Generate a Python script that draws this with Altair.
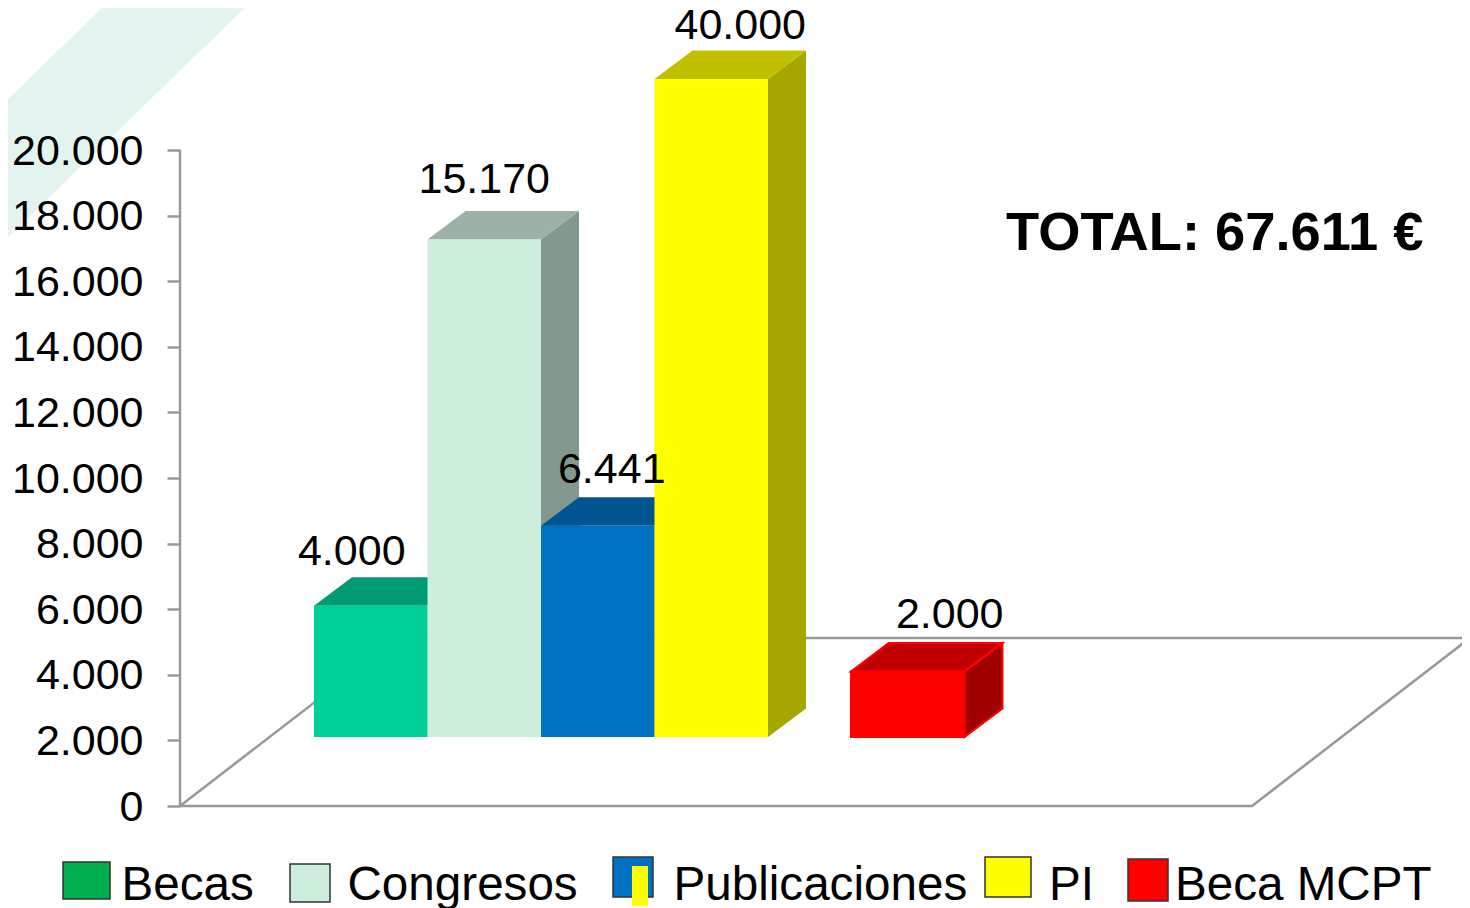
import altair as alt
import pandas as pd

# ---- data ----
categories = ["Becas", "Congresos", "Publicaciones", "PI", "Beca MCPT"]
values = [4000, 15170, 6441, 40000, 2000]
axis_ticks = list(range(0, 20001, 2000))
total_text = "TOTAL: 67.611 €"

# ---- styling / layout ----
slots = [0, 1, 2, 3, 4.731]          # bar position, in bar widths
front = ["#00CF9A", "#CDEEDD", "#0070C0", "#FFFF00", "#FF0000"]
top_c = ["#009A73", "#9AB3A6", "#005490", "#C0C000", "#C00000"]
side_c = ["#008A67", "#83988E", "#004B80", "#A6A600", "#A00000"]
legend_c = ["#00B050", "#CDEEDD", "#0070C0", "#FFFF00", "#FF0000"]
legend_boxes = [(63, 110, 862, 899), (290, 330, 864, 902), (613, 653, 857, 897),
                (985, 1031, 857, 897), (1128, 1168, 859, 901)]
legend_text_x = [121.5, 347.5, 673.5, 1049, 1175]
label_dx = [-19, 0, 14, 29, 42]      # label centre relative to the bar centre, px
label_gap = [41, 46, 43, 40, 43]     # label baseline above the bar top, px
FONT = "Liberation Sans"
GREY = "#999999"

AXIS_PX = 180                        # picture pixel of the axis line
LEFT = AXIS_PX - 8
W, H = 1454 - LEFT, 900
PX_PER_EURO = 0.0328
BAR_W = 113.5
X0, Y0 = 314, 806                    # picture pixel of slot 0 and of 0 euros
DX, DY = 38, 28.5                    # depth of the 3D effect, px
BASE = (Y0 - 737) / PX_PER_EURO      # the front faces stand on the floor
TOP_LIMIT = (737 - 79) / PX_PER_EURO # the tallest bar is cut here


def X(px):
    return (px - X0) / BAR_W


def Y(py):
    return (Y0 - py) / PX_PER_EURO


x_scale = alt.Scale(domain=[X(AXIS_PX), X(AXIS_PX + W)], range=[0, W], nice=False, zero=False)
y_scale = alt.Scale(domain=[Y(8 + H), Y(8)], range=[H, 0], nice=False, zero=False)
y_axis = alt.Axis(
    values=axis_ticks,
    domain=False,
    grid=False,
    zindex=1,
    tickColor=GREY,
    tickWidth=2.5,
    tickSize=13,
    labelPadding=24,
    labelFont=FONT,
    labelFontSize=43,
    labelColor="#000000",
    labelExpr="replace(format(datum.value, ','), ',', '.')",
    labelOverlap=False,
    labelFlush=False,
    labelBound=False,
    labelOffset=1,
)
xq = lambda f="x": alt.X(f"{f}:Q", scale=x_scale, axis=None, title=None)
yq = lambda f="y": alt.Y(f"{f}:Q", scale=y_scale, axis=y_axis, title=None)


def df(**kw):
    return alt.Chart(pd.DataFrame(kw))


layers = []

# pale decoration in the corner
layers.append(
    df(x=[X(0), X(110), X(253)], y=[Y(107), Y(0), Y(0)], y2=[Y(245), Y(138.5), Y(0)])
    .mark_area(color="#E3F4F0", interpolate="linear", opacity=1)
    .encode(x=xq(), y=yq(), y2="y2:Q")
)

# axis line, which stops at 20.000
layers.append(
    df(x=[X(AXIS_PX)], y=[0], y2=[20000])
    .mark_rule(color=GREY, strokeWidth=2.5)
    .encode(x=xq(), y=yq(), y2="y2:Q")
)

# floor
layers.append(
    df(
        x=[X(180), X(1252), X(1470), X(398), X(180)],
        y=[Y(806), Y(806), Y(638), Y(638), Y(806)],
        o=[0, 1, 2, 3, 4],
    )
    .mark_line(color=GREY, strokeWidth=2.5)
    .encode(x=xq(), y=yq(), order="o:Q")
)

# bars
dx_u = DX / BAR_W
dy_u = DY / PX_PER_EURO
for i, v in enumerate(values):
    shown = min(v, TOP_LIMIT)
    left, right = slots[i], slots[i] + 1
    bottom, top = BASE, BASE + shown
    stroke = {"stroke": front[i], "strokeWidth": 2} if categories[i] == "Beca MCPT" else {}
    layers.append(
        df(x=[right, right + dx_u], y=[top, top + dy_u], y2=[bottom, bottom + dy_u])
        .mark_area(color=side_c[i], opacity=1, **stroke)
        .encode(x=xq(), y=yq(), y2="y2:Q")
    )
    layers.append(
        df(y=[top, top + dy_u], x=[left, left + dx_u], x2=[right, right + dx_u])
        .mark_area(orient="horizontal", color=top_c[i], opacity=1, **stroke)
        .encode(y=yq(), x=xq(), x2="x2:Q")
    )
    layers.append(
        df(x=[left], x2=[right], y=[bottom], y2=[top])
        .mark_rect(color=front[i], **stroke)
        .encode(x=xq(), x2="x2:Q", y=yq(), y2="y2:Q")
    )

# value labels
layers.append(
    df(
        x=[s + 0.5 + d / BAR_W for s, d in zip(slots, label_dx)],
        y=[BASE + min(v, TOP_LIMIT) + g / PX_PER_EURO for v, g in zip(values, label_gap)],
        t=[f"{v:,}".replace(",", ".") for v in values],
    )
    .mark_text(font=FONT, fontSize=43, color="#000000", align="center", baseline="alphabetic")
    .encode(x=xq(), y=yq(), text="t:N")
)

# total
layers.append(
    df(x=[X(1006)], y=[Y(250)], t=[total_text])
    .mark_text(font=FONT, fontSize=54.3, fontWeight="bold", color="#000000", align="left", baseline="alphabetic")
    .encode(x=xq(), y=yq(), text="t:N")
)

# legend
for (x1, x2, y1, y2), c in zip(legend_boxes, legend_c):
    layers.append(
        df(x=[X(x1)], x2=[X(x2)], y=[Y(y1)], y2=[Y(y2)])
        .mark_rect(color=c, stroke="#333333", strokeWidth=1.5)
        .encode(x=xq(), x2="x2:Q", y=yq(), y2="y2:Q")
    )
layers.append(
    df(x=[X(632)], x2=[X(648)], y=[Y(866)], y2=[Y(906)])
    .mark_rect(color="#FFFF00")
    .encode(x=xq(), x2="x2:Q", y=yq(), y2="y2:Q")
)
layers.append(
    df(x=[X(p) for p in legend_text_x], y=[Y(900)] * 5, t=categories)
    .mark_text(font=FONT, fontSize=47.6, color="#000000", align="left", baseline="alphabetic")
    .encode(x=xq(), y=yq(), text="t:N")
)

chart = (
    alt.layer(*layers)
    .properties(
        width=W,
        height=H,
        padding={"left": LEFT, "top": 0, "right": 0, "bottom": 0},
        autosize=alt.AutoSizeParams(type="none"),
        background="#FFFFFF",
    )
    .configure_view(stroke=None)
)
chart.save("out.html", embed_options={"renderer": "svg", "actions": False})
